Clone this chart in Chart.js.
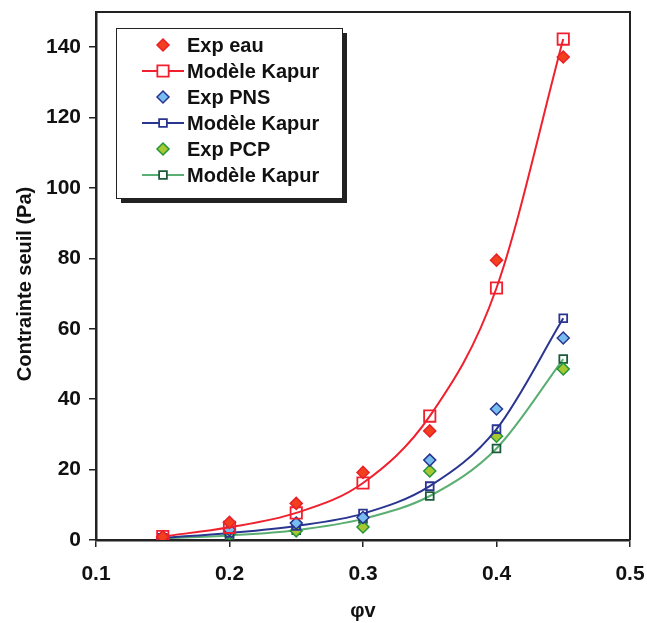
<!DOCTYPE html>
<html>
<head>
<meta charset="utf-8">
<script src="https://cdn.jsdelivr.net/npm/chart.js@4"></script>
<style>
  html, body { margin: 0; padding: 0; background: #fff; }
  #wrap { width: 647px; height: 623px; }
</style>
</head>
<body>
<div id="wrap"><canvas id="chart" width="647" height="623"></canvas></div>
<script>
// values
const phiV = [0.15, 0.2, 0.25, 0.3, 0.35, 0.4, 0.45];

const expEau = [0.9, 5.0, 10.4, 19.2, 31.0, 79.5, 137.2];
const kapurEau = [1.0, 3.6, 7.7, 16.2, 35.2, 71.6, 142.3];

const expPNS = [0.8, 2.9, 4.8, 6.4, 22.7, 37.2, 57.4];
const kapurPNS = [0.6, 2.0, 4.0, 7.5, 15.3, 31.5, 63.0];

const expPCP = [0.6, 1.8, 2.6, 3.7, 19.6, 29.5, 48.6];
const kapurPCP = [0.4, 1.3, 2.8, 6.0, 12.5, 26.0, 51.4];

const yTicks = [0, 20, 40, 60, 80, 100, 120, 140];
const xTicks = [0.1, 0.2, 0.3, 0.4, 0.5];

const font = "'Liberation Sans', Arial, sans-serif";

function pts(ys) {
  return phiV.map((x, i) => ({ x: x, y: ys[i] }));
}

// legend drawn by hand: markers + line like the Excel one
const boxLegend = {
  id: "boxLegend",
  afterDraw(chart) {
    const ctx = chart.ctx;
    const x0 = 116, y0 = 28, w = 226, h = 170;
    ctx.save();
    ctx.fillStyle = "#222";
    ctx.fillRect(x0 + 5, y0 + 5, w, h);
    ctx.fillStyle = "#fff";
    ctx.fillRect(x0, y0, w, h);
    ctx.strokeStyle = "#222";
    ctx.lineWidth = 1;
    ctx.strokeRect(x0 + 0.5, y0 + 0.5, w, h);

    ctx.font = "bold 20px " + font;
    ctx.textBaseline = "middle";
    chart.data.datasets.forEach((ds, i) => {
      const cy = 45 + i * 26;
      const cx = 163;
      if (ds.showLine) {
        ctx.strokeStyle = ds.borderColor;
        ctx.lineWidth = 2;
        ctx.beginPath();
        ctx.moveTo(142, cy);
        ctx.lineTo(184, cy);
        ctx.stroke();
      }
      ctx.fillStyle = ds.pointBackgroundColor;
      ctx.strokeStyle = ds.pointBorderColor;
      ctx.lineWidth = ds.pointBorderWidth;
      ctx.beginPath();
      if (ds.pointStyle === "rectRot") {
        const r = ds.pointRadius;
        ctx.moveTo(cx, cy - r);
        ctx.lineTo(cx + r, cy);
        ctx.lineTo(cx, cy + r);
        ctx.lineTo(cx - r, cy);
        ctx.closePath();
        ctx.fill();
      } else {
        const r = ds.pointRadius * Math.SQRT1_2;
        ctx.fillStyle = "#fff";
        ctx.rect(cx - r, cy - r, 2 * r, 2 * r);
        ctx.fill();
      }
      ctx.stroke();
      ctx.fillStyle = "#111";
      ctx.fillText(ds.label, 187, cy + 1);
    });
    ctx.restore();
  }
};

// box around the plot area + y title (a bit lower than the centred one)
const frame = {
  id: "frame",
  afterDatasetsDraw(chart) {
    const a = chart.chartArea;
    const ctx = chart.ctx;
    ctx.save();
    ctx.strokeStyle = "#222";
    ctx.lineWidth = 2;
    ctx.beginPath();
    ctx.moveTo(a.left, a.top);
    ctx.lineTo(a.right, a.top);
    ctx.lineTo(a.right, a.bottom);
    ctx.stroke();

    ctx.translate(25, 284);
    ctx.rotate(-Math.PI / 2);
    ctx.font = "bold 20px " + font;
    ctx.fillStyle = "#111";
    ctx.textAlign = "center";
    ctx.textBaseline = "middle";
    ctx.fillText("Contrainte seuil (Pa)", 0, 0);
    ctx.restore();
  }
};

function expSet(label, data, fill, border) {
  return {
    label: label,
    data: pts(data),
    showLine: false,
    pointStyle: "rectRot",
    pointRadius: 6,
    pointBackgroundColor: fill,
    pointBorderColor: border,
    pointBorderWidth: 1.5,
    borderColor: border,
    backgroundColor: fill
  };
}

function modelSet(data, color, markColor, size) {
  return {
    label: "Modèle Kapur",
    data: pts(data),
    showLine: true,
    borderColor: color,
    borderWidth: 2,
    cubicInterpolationMode: "monotone",
    pointStyle: "rect",
    pointRadius: size,
    pointBackgroundColor: "rgba(255,255,255,0)",
    pointBorderColor: markColor,
    pointBorderWidth: 1.8,
    backgroundColor: "rgba(255,255,255,0)"
  };
}

new Chart(document.getElementById("chart"), {
  type: "scatter",
  data: {
    datasets: [
      expSet("Exp eau", expEau, "#f2401e", "#e8202a"),
      modelSet(kapurEau, "#f0202e", "#f0202e", 8),
      expSet("Exp PNS", expPNS, "#78bdf0", "#2a3590"),
      modelSet(kapurPNS, "#2a3590", "#2a3590", 5.5),
      expSet("Exp PCP", expPCP, "#a8c832", "#22963a"),
      modelSet(kapurPCP, "#5aae72", "#1c5a3a", 5.5)
    ]
  },
  options: {
    responsive: false,
    animation: false,
    layout: { padding: { top: 12, right: 17, left: 0, bottom: 0 } },
    plugins: {
      legend: { display: false },
      tooltip: { enabled: false }
    },
    scales: {
      x: {
        type: "linear",
        min: 0.1,
        max: 0.5,
        afterFit(s) { s.height = 83; s.paddingLeft = 0; s.paddingRight = 0; },
        afterBuildTicks(s) { s.ticks = xTicks.map(v => ({ value: v })); },
        border: { color: "#222", width: 2.5 },
        grid: { drawOnChartArea: false, color: "#222", tickLength: 7, lineWidth: 1.5 },
        ticks: {
          color: "#111",
          padding: 15,
          font: { family: font, size: 21, weight: "bold" },
          callback: v => v.toFixed(1)
        },
        title: {
          display: true,
          text: "φv",
          color: "#111",
          padding: { top: 5, bottom: 0 },
          font: { family: font, size: 20, weight: "bold" }
        }
      },
      y: {
        type: "linear",
        min: 0,
        max: 150,
        afterFit(s) { s.width = 96; s.paddingTop = 0; s.paddingBottom = 0; },
        afterBuildTicks(s) { s.ticks = yTicks.map(v => ({ value: v })); },
        border: { color: "#222", width: 2.5 },
        grid: { drawOnChartArea: false, color: "#222", tickLength: 7, lineWidth: 1.5 },
        ticks: {
          color: "#111",
          padding: 8,
          font: { family: font, size: 21, weight: "bold" }
        }
      }
    }
  },
  plugins: [frame, boxLegend]
});
</script>
</body>
</html>
